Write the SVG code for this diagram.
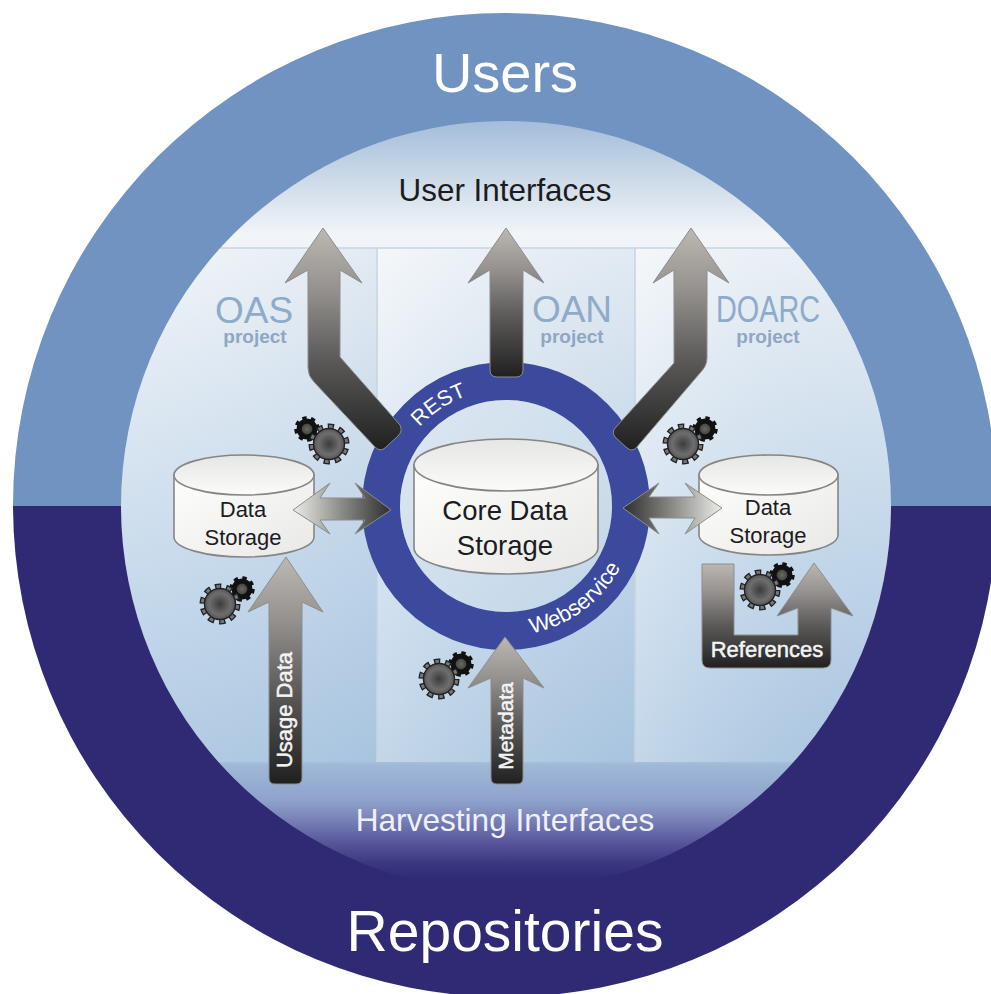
<svg xmlns="http://www.w3.org/2000/svg" width="991" height="994" viewBox="0 0 991 994">
<style>
text{font-family:"Liberation Sans",Arial,sans-serif;text-anchor:middle}
.wh{fill:#fff}
.sm{fill:#8fa6c4;font-size:19px;font-weight:bold}
.pn{fill:#8fabca;font-size:37px}
.dk{fill:#1c1c1e}
.arrow{fill:url(#gv);stroke:#8d8d8d;stroke-width:1;stroke-linejoin:round}
.cyl{stroke:#858585;stroke-width:1.6}
.lab{fill:#f4f4f4;font-size:22px;stroke:#f4f4f4;stroke-width:.5}
.sep{stroke:#c6d3df;stroke-width:1.5;fill:none}
</style>
<defs>
<clipPath id="top"><rect x="0" y="0" width="991" height="506"/></clipPath>
<clipPath id="bot"><rect x="0" y="506" width="991" height="488"/></clipPath>
<clipPath id="inner"><circle cx="506" cy="506" r="385"/></clipPath>
<linearGradient id="bg" gradientUnits="userSpaceOnUse" x1="0" y1="121" x2="0" y2="892">
<stop offset="0" stop-color="#a3bdda"/>
<stop offset=".064" stop-color="#c6d6e6"/>
<stop offset=".148" stop-color="#f2f5f8"/>
<stop offset=".362" stop-color="#d9e5f0"/>
<stop offset=".622" stop-color="#bdd3e8"/>
<stop offset=".83" stop-color="#a8c4df"/>
<stop offset=".835" stop-color="#9fb9d7"/>
<stop offset=".881" stop-color="#8ea3cb"/>
<stop offset=".907" stop-color="#7880b6"/>
<stop offset=".933" stop-color="#5a5a9c"/>
<stop offset=".962" stop-color="#3b3880"/>
<stop offset=".984" stop-color="#2f2a73"/>
</linearGradient>
<linearGradient id="p1" gradientUnits="userSpaceOnUse" x1="121" y1="0" x2="377" y2="0"><stop offset="0" stop-color="#fff" stop-opacity=".12"/><stop offset="1" stop-color="#a9c4de" stop-opacity=".2"/></linearGradient>
<linearGradient id="p2" gradientUnits="userSpaceOnUse" x1="377" y1="0" x2="635" y2="0"><stop offset="0" stop-color="#fff" stop-opacity=".32"/><stop offset="1" stop-color="#a9c4de" stop-opacity=".2"/></linearGradient>
<linearGradient id="p3" gradientUnits="userSpaceOnUse" x1="635" y1="0" x2="891" y2="0"><stop offset="0" stop-color="#fff" stop-opacity=".32"/><stop offset="1" stop-color="#a9c4de" stop-opacity=".08"/></linearGradient>
<linearGradient id="gv" x1="0" y1="0" x2="0" y2="1">
<stop offset="0" stop-color="#bcb9b4"/>
<stop offset=".28" stop-color="#94918e"/>
<stop offset=".6" stop-color="#5a5958"/>
<stop offset="1" stop-color="#202020"/>
</linearGradient>
<linearGradient id="gl" x1="0" y1="0" x2="1" y2="0"><stop offset="0" stop-color="#ecece8"/><stop offset=".5" stop-color="#8a8a86"/><stop offset="1" stop-color="#2e2e2e"/></linearGradient>
<linearGradient id="gr" x1="0" y1="0" x2="1" y2="0"><stop offset="0" stop-color="#2e2e2e"/><stop offset=".5" stop-color="#8a8a86"/><stop offset="1" stop-color="#ecece8"/></linearGradient>
<linearGradient id="body" x1="0" y1="0" x2="1" y2="1"><stop offset="0" stop-color="#fefefd"/><stop offset="1" stop-color="#e8e8e6"/></linearGradient>
<linearGradient id="lid" x1="0" y1="0" x2="0" y2="1"><stop offset="0" stop-color="#e6e6e4"/><stop offset="1" stop-color="#fbfbfa"/></linearGradient>
<radialGradient id="gb"><stop offset="0" stop-color="#3c3c3c"/><stop offset=".7" stop-color="#6e6e6e"/><stop offset="1" stop-color="#555"/></radialGradient>
<radialGradient id="gs"><stop offset="0" stop-color="#6a6a60"/><stop offset=".45" stop-color="#4a4a44"/><stop offset=".55" stop-color="#111"/><stop offset="1" stop-color="#111"/></radialGradient>
<g id="gear">
<circle cx="0" cy="0" r="10.5" fill="none" stroke="#111" stroke-width="4.5" stroke-dasharray="4.1 4.15"/>
<circle cx="0" cy="0" r="10.5" fill="url(#gs)"/>
<circle cx="-22" cy="15" r="17.5" fill="none" stroke="#222" stroke-width="6" stroke-dasharray="6.2 4.8"/>
<circle cx="-22" cy="15" r="17.5" fill="none" stroke="#77777a" stroke-width="3.4" stroke-dasharray="3.6 7.4" stroke-dashoffset="-1.3"/>
<circle cx="-22" cy="15" r="15.5" fill="url(#gb)" stroke="#222" stroke-width="1.4"/>
</g>
<path id="restArc" d="M391.3 482.9A117 117 0 0 1 529.1 391.3"/>
<path id="webArc" d="M487.2 634.6A130 130 0 0 0 634.6 524.8"/>
</defs>

<rect width="991" height="994" fill="#fff"/>
<g id="users-band">
<circle cx="505" cy="505" r="492" fill="#7093c2" clip-path="url(#top)"/>
<text class="wh" x="505" y="92" font-size="56">Users</text>
</g>
<g id="repositories-band">
<circle cx="505" cy="505" r="492" fill="#2f2a73" clip-path="url(#bot)"/>
<text class="wh" x="505" y="951" font-size="57">Repositories</text>
</g>
<g id="interfaces">
<circle cx="506" cy="506" r="385" fill="url(#bg)"/>
<g clip-path="url(#inner)">
<rect x="100" y="248" width="277" height="514" fill="url(#p1)"/>
<rect x="377" y="248" width="258" height="514" fill="url(#p2)"/>
<rect x="635" y="248" width="270" height="514" fill="url(#p3)"/>
<path class="sep" d="M100 248H905M377 248V762M635 248V762"/>
</g>
<text class="dk" x="505" y="201" font-size="31.4">User Interfaces</text>
<text x="505" y="831" font-size="31.6" fill="#eff0f8">Harvesting Interfaces</text>
</g>
<g id="project-oas">
<text class="pn" x="254" y="323">OAS</text>
<text class="sm" x="255" y="343">project</text>
</g>
<g id="project-oan">
<text class="pn" x="572" y="322">OAN</text>
<text class="sm" x="572" y="343">project</text>
</g>
<g id="project-doarc">
<text class="pn" x="768" y="322" textLength="104" lengthAdjust="spacingAndGlyphs">DOARC</text>
<text class="sm" x="768" y="343">project</text>
</g>
<g id="ring">
<circle cx="506" cy="506" r="125" fill="none" stroke="#3b4a9c" stroke-width="38"/>
<circle cx="506" cy="506" r="106" fill="#d3e1ee" fill-opacity=".35"/>
<text class="wh" font-size="21.5"><textPath href="#restArc" startOffset="50%">REST</textPath></text>
<text class="wh" font-size="22"><textPath href="#webArc" startOffset="50%">Webservice</textPath></text>
</g>
<g id="core-storage">
<path class="cyl" fill="url(#body)" d="M414 465V548A92 26 0 0 0 598 548V465Z"/>
<ellipse class="cyl" cx="506" cy="465" rx="92" ry="26" fill="url(#lid)"/>
<text class="dk" x="505" y="520" font-size="27.5">Core Data</text>
<text class="dk" x="505" y="555" font-size="27.5">Storage</text>
</g>
<g id="oas-storage">
<path class="cyl" fill="url(#body)" d="M174 475V537A70 20 0 0 0 314 537V475Z"/>
<ellipse class="cyl" cx="244" cy="475" rx="70" ry="20" fill="url(#lid)"/>
<text class="dk" x="243" y="517" font-size="22">Data</text>
<text class="dk" x="243" y="545" font-size="22">Storage</text>
</g>
<g id="doarc-storage">
<path class="cyl" fill="url(#body)" d="M699 475V535A69.500 20 0 0 0 838 535V475Z"/>
<ellipse class="cyl" cx="768.500" cy="475" rx="69.500" ry="20" fill="url(#lid)"/>
<text class="dk" x="768" y="515" font-size="22">Data</text>
<text class="dk" x="768" y="543" font-size="22">Storage</text>
</g>
<g id="connectors">
<path class="arrow" d="M323 228L362 283L340 270V357L400 425Q403 431 398 436L385 448Q380 452 375 447L314 382Q308 376 308 368V270L285 283Z"/>
<path class="arrow" d="M506 228L544 283L523 270V370Q523 377 516 377H497Q490 377 490 370V270L468 283Z"/>
<path class="arrow" d="M691 228L729 283L707 270V358Q707 366 700 373L636 448Q632 452 627 448L615 437Q611 432 616 427L674 363V270L653 283Z"/>
<path class="arrow" style="fill:url(#gl)" d="M293 510L330 483L320 498H365L355 483L391 510L355 534L365 520H320L330 534Z"/>
<path class="arrow" style="fill:url(#gr)" d="M623 508L659 483L649 497H695L685 483L722 508L685 534L695 518H649L659 534Z"/>
<path class="arrow" d="M286 557L323 612L302 602V778Q302 784 296 784H275Q269 784 269 778V602L248 612Z"/>
<path class="arrow" d="M505 637L544 688L523 678V778Q523 784 517 784H497Q491 784 491 778V678L468 688Z"/>
<path class="arrow" d="M702 564H734V635H798V608L777 616L814 563L853 616L831 608V660Q831 668 823 668H710Q702 668 702 660Z"/>
<text class="lab" transform="translate(292 710) rotate(-90)">Usage Data</text>
<text class="lab" transform="translate(513 726) rotate(-90)" style="font-size:21px">Metadata</text>
<text class="lab" x="767" y="657">References</text>
</g>
<g id="gears-oas"><use href="#gear" transform="translate(307 429) scale(-1 1)"/></g>
<g id="gears-doarc"><use href="#gear" transform="translate(705 429)"/></g>
<g id="gears-usage"><use href="#gear" transform="translate(242 589)"/></g>
<g id="gears-metadata"><use href="#gear" transform="translate(461 664)"/></g>
<g id="gears-references"><use href="#gear" transform="translate(782 575)"/></g>
</svg>
